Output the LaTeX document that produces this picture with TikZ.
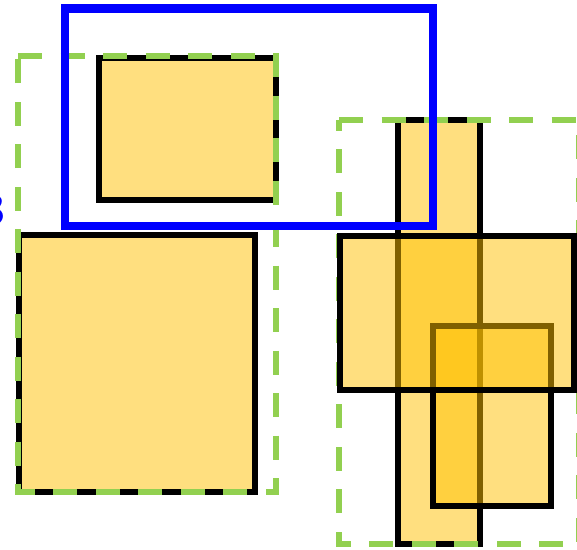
\documentclass[tikz,border=0pt]{standalone}
\definecolor{fillc}{HTML}{FFC000}
\definecolor{grn}{HTML}{92D050}
\begin{document}
\begin{tikzpicture}[x=1pt,y=-1pt,
  box/.style={draw=black, line width=6pt, fill=fillc, fill opacity=0.5, draw opacity=1},
  grp/.style={draw=grn, line width=6pt, dash pattern=on 24pt off 18.5pt},
  sel/.style={draw=blue, line width=8.5pt}]
\useasboundingbox (0,0) rectangle (577,549);
% yellow boxes (left)
\draw[box] (99,58) rectangle (276,200);
\draw[box] (19,235) rectangle (255,492);
% tall box (right)
\draw[box] (398,120) rectangle (480,544);
% green dashed groups
\draw[grp] (18,56) -- (276,56) -- (276,491.5) -- (18,491.5) -- cycle;
\draw[grp] (339,120) -- (579,120) -- (579,544) -- (339,544) -- cycle;
% remaining right boxes
\draw[box] (433,326) rectangle (551,505.5);
\draw[box] (339.5,236) rectangle (574,390);
% blue selection
\draw[sel] (65,8.5) rectangle (433,226);
% cut-off label
\node[anchor=east, inner sep=0pt, text=blue, font=\sffamily\fontsize{44}{48}\selectfont] (lbl) at (5.5,210) {3};
\end{tikzpicture}
\end{document}
